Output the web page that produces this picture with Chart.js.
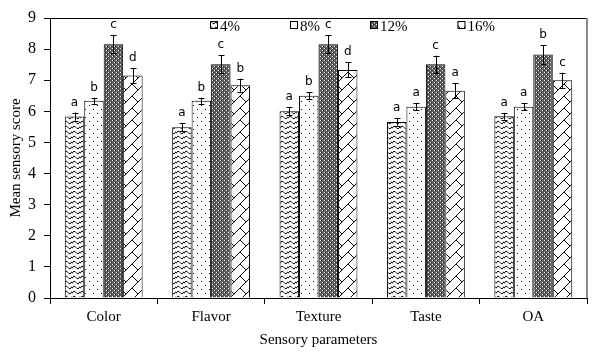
<!DOCTYPE html>
<html>
<head>
<meta charset="utf-8">
<script src="https://cdn.jsdelivr.net/npm/chart.js@4.4.1/dist/chart.umd.min.js"></script>
<style>
  body { margin: 0; background: #fff; }
  #wrap { width: 600px; height: 354px; }
</style>
</head>
<body>
<div id="wrap"><canvas id="sensoryChart" width="600" height="354"></canvas></div>
<script>
// data
const categories = ['Color', 'Flavor', 'Texture', 'Taste', 'OA'];
const seriesLabels = ['4%', '8%', '12%', '16%'];
const mean4  = [5.83, 5.49, 6.00, 5.66, 5.84];
const mean8  = [6.34, 6.34, 6.50, 6.15, 6.15];
const mean12 = [8.16, 7.51, 8.16, 7.51, 7.83];
const mean16 = [7.15, 6.84, 7.33, 6.66, 7.00];
const err4  = [0.13, 0.13, 0.13, 0.12, 0.11];
const err8  = [0.10, 0.10, 0.11, 0.12, 0.12];
const err12 = [0.30, 0.29, 0.29, 0.28, 0.30];
const err16 = [0.24, 0.21, 0.24, 0.24, 0.24];
const letters4  = ['a', 'a', 'a', 'a', 'a'];
const letters8  = ['b', 'b', 'b', 'a', 'a'];
const letters12 = ['c', 'c', 'c', 'c', 'b'];
const letters16 = ['d', 'b', 'd', 'a', 'c'];
const yMin = 0, yMax = 9, yStep = 1;

const serif = "'Liberation Serif', 'Times New Roman', serif";

// fill patterns, one per series
function makePattern(size, drawFn) {
    const c = document.createElement('canvas');
    c.width = size[0];
    c.height = size[1];
    const g = c.getContext('2d');
    g.fillStyle = '#fff';
    g.fillRect(0, 0, c.width, c.height);
    g.strokeStyle = '#000';
    g.fillStyle = '#000';
    g.lineWidth = 1;
    drawFn(g);
    return document.createElement('canvas').getContext('2d').createPattern(c, 'repeat');
}

const wavePattern = makePattern([8, 5], g => {
    g.beginPath();
    g.moveTo(0, 3.5);
    g.quadraticCurveTo(2, -0.5, 4, 2.5);
    g.quadraticCurveTo(6, 5.5, 8, 1.5);
    g.stroke();
});

const dotPattern = makePattern([8, 8], g => {
    g.fillRect(1, 1, 1, 1);
    g.fillRect(5, 5, 1, 1);
});

// dark lattice with white holes
const checkPattern = makePattern([4, 4], g => {
    g.fillStyle = '#5e5e5e';
    g.fillRect(0, 0, 4, 4);
    g.fillStyle = '#fff';
    g.fillRect(0, 0, 1, 1);
    g.fillRect(2, 2, 1, 1);
    g.fillStyle = '#222';
    g.fillRect(1, 0, 1, 1);
    g.fillRect(3, 2, 1, 1);
});

const brickPattern = makePattern([12, 12], g => {
    g.beginPath();
    g.moveTo(-2, 14); g.lineTo(14, -2);
    g.moveTo(-2, 2); g.lineTo(2, -2);
    g.moveTo(10, 14); g.lineTo(14, 10);
    g.moveTo(0, 0); g.lineTo(6, 6);
    g.stroke();
});

const patterns = [wavePattern, dotPattern, checkPattern, brickPattern];
const means = [mean4, mean8, mean12, mean16];
const errs = [err4, err8, err12, err16];
const letters = [letters4, letters8, letters12, letters16];

const datasets = seriesLabels.map((lab, i) => ({
    label: lab,
    data: means[i],
    backgroundColor: patterns[i],
    borderColor: '#000',
    borderWidth: 1,
    categoryPercentage: 0.725,
    barPercentage: 1.0
}));

// error bars + significance letters
const errorBarPlugin = {
    id: 'errorBars',
    afterDatasetsDraw(chart) {
        const ctx = chart.ctx;
        const yScale = chart.scales.y;
        ctx.save();
        ctx.strokeStyle = '#000';
        ctx.lineWidth = 1;
        chart.data.datasets.forEach((ds, i) => {
            const meta = chart.getDatasetMeta(i);
            meta.data.forEach((bar, j) => {
                const v = ds.data[j];
                const e = errs[i][j];
                const x = Math.round(bar.x) + 0.5;
                const yTop = yScale.getPixelForValue(v + e);
                const yBot = yScale.getPixelForValue(v - e);
                ctx.beginPath();
                ctx.moveTo(x, yTop);
                ctx.lineTo(x, yBot);
                ctx.moveTo(x - 3, Math.round(yTop) + 0.5);
                ctx.lineTo(x + 3, Math.round(yTop) + 0.5);
                ctx.moveTo(x - 3, Math.round(yBot) + 0.5);
                ctx.lineTo(x + 3, Math.round(yBot) + 0.5);
                ctx.stroke();

                ctx.fillStyle = '#000';
                ctx.font = "12px 'DejaVu Sans', sans-serif";
                ctx.textAlign = 'center';
                ctx.textBaseline = 'alphabetic';
                ctx.fillText(letters[i][j], bar.x, yTop - 7);
            });
        });
        ctx.restore();
    }
};

// top / right frame and the legend sitting inside the plot
const framePlugin = {
    id: 'frameAndLegend',
    afterDraw(chart) {
        const ctx = chart.ctx;
        const a = chart.chartArea;
        ctx.save();
        ctx.strokeStyle = '#000';
        ctx.lineWidth = 1;
        ctx.beginPath();
        ctx.moveTo(a.left, Math.round(a.top) + 0.5);
        ctx.lineTo(a.right, Math.round(a.top) + 0.5);
        ctx.stroke();
        ctx.strokeStyle = '#8a8a8a';
        ctx.lineWidth = 2;
        ctx.beginPath();
        ctx.moveTo(a.right, a.top);
        ctx.lineTo(a.right, a.bottom);
        ctx.stroke();

        ctx.font = '15px ' + serif;
        ctx.textBaseline = 'alphabetic';
        ctx.textAlign = 'left';
        let x = 210;
        const y = 21;
        chart.data.datasets.forEach((ds, i) => {
            ctx.fillStyle = patterns[i];
            ctx.fillRect(x, y, 8, 8);
            ctx.strokeStyle = '#000';
            ctx.lineWidth = 1;
            ctx.strokeRect(x + 0.5, y + 0.5, 7, 7);
            ctx.fillStyle = '#000';
            ctx.fillText(ds.label, x + 10, y + 10);
            x += 10 + ctx.measureText(ds.label).width + 50;
        });
        ctx.restore();
    }
};

const ctx = document.getElementById('sensoryChart').getContext('2d');
const sensoryChart = new Chart(ctx, {
    type: 'bar',
    data: {
        labels: categories,
        datasets: datasets
    },
    options: {
        responsive: false,
        animation: false,
        layout: { padding: { top: 18, right: 13, left: 0, bottom: 0 } },
        plugins: {
            legend: { display: false },
            tooltip: { enabled: false }
        },
        scales: {
            x: {
                grid: { drawOnChartArea: false, tickLength: 6, color: '#000', offset: true },
                border: { color: '#000', width: 1 },
                ticks: { color: '#000', font: { family: serif, size: 15 }, padding: 4 },
                title: { display: true, text: 'Sensory parameters', color: '#000', font: { family: serif, size: 15 }, padding: { top: 0, bottom: 5 } },
                afterFit(s) { s.height = 56; }
            },
            y: {
                min: yMin,
                max: yMax,
                ticks: { stepSize: yStep, color: '#000', font: { family: serif, size: 16 }, padding: 8 },
                grid: { drawOnChartArea: false, tickLength: 6, color: '#000' },
                border: { color: '#000', width: 1 },
                title: { display: true, text: 'Mean sensory score', color: '#000', font: { family: serif, size: 15 }, padding: { top: 7, bottom: 0 } },
                afterFit(s) { s.width = 50; }
            }
        }
    },
    plugins: [errorBarPlugin, framePlugin]
});
</script>
</body>
</html>
